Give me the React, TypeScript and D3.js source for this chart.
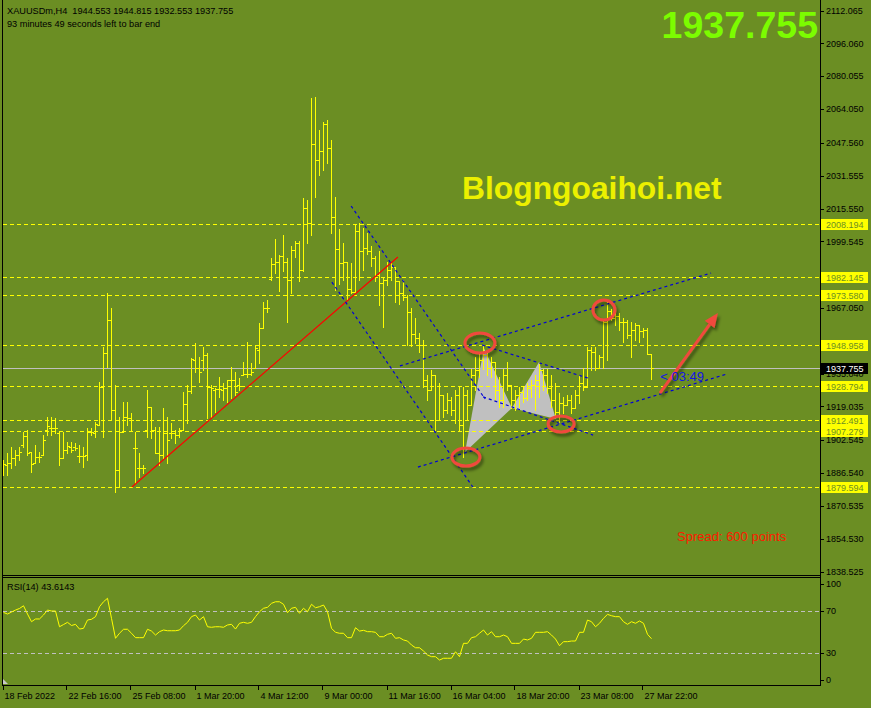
import React from "react";
import * as d3 from "d3";

const W = 871;
const H = 708;
const BG = "#6B8E23";
const FONT = "'Liberation Sans', Arial, sans-serif";

// ---- OHLC (XAUUSDm, H4) ----
const opens = [
  1891.5, 1890.5, 1891.5, 1893.9, 1895.4, 1900.3, 1904.6, 1896.8, 1891.5, 1894.4,
  1895.4, 1907.6, 1908.5, 1908.5, 1906.1, 1893.9, 1897.8, 1899.3, 1899.3, 1894.9,
  1894.9, 1895.4, 1906.6, 1906.1, 1910.0, 1928.5, 1945.1, 1961.2, 1917.3, 1888.1,
  1906.6, 1913.9, 1913.4, 1898.8, 1889.0, 1889.0, 1907.6, 1918.8, 1907.6, 1896.4,
  1895.4, 1906.1, 1906.1, 1906.1, 1905.1, 1907.6, 1920.2, 1926.6, 1941.7, 1937.8,
  1941.7, 1944.1, 1928.5, 1927.1, 1927.6, 1927.1, 1928.0, 1932.0, 1932.0, 1929.5,
  1934.4, 1934.9, 1934.9, 1937.8, 1946.6, 1957.3, 1967.1, 1981.2, 1988.5, 1989.5,
  1992.4, 1989.5, 1980.7, 1995.3, 1998.8, 1985.6, 2015.8, 2008.5, 2047.0, 2039.2,
  2043.6, 2056.8, 2045.1, 2011.4, 1995.8, 1989.0, 1989.5, 1976.3, 1974.9, 2004.6,
  1994.9, 1996.3, 1994.9, 1991.4, 1983.2, 1979.2, 1980.7, 1985.6, 1987.0, 1980.2,
  1974.4, 1972.4, 1965.1, 1954.4, 1952.4, 1949.0, 1932.0, 1927.1, 1934.4, 1912.5,
  1924.6, 1917.3, 1922.2, 1917.3, 1924.6, 1910.0, 1924.6, 1919.8, 1934.4, 1936.8,
  1941.7, 1944.1, 1937.8, 1940.7, 1927.1, 1922.2, 1934.4, 1929.5, 1922.2, 1924.6,
  1926.1, 1923.2, 1928.0, 1929.5, 1932.0, 1936.8, 1934.4, 1928.0, 1922.2, 1916.3,
  1920.7, 1919.8, 1922.2, 1918.3, 1924.6, 1930.5, 1928.5, 1946.6, 1945.6, 1937.8,
  1943.2, 1960.2, 1965.6, 1962.2, 1963.2, 1960.2, 1960.2, 1953.9, 1956.3, 1958.8,
  1955.8, 1956.3, 1944.553,
];
const highs = [
  1892.9, 1896.4, 1899.3, 1897.8, 1899.3, 1906.6, 1907.6, 1896.8, 1900.3, 1896.8,
  1905.1, 1913.9, 1913.9, 1913.4, 1906.6, 1906.6, 1901.7, 1901.7, 1901.2, 1900.3,
  1899.3, 1908.5, 1908.5, 1911.5, 1931.0, 1948.0, 1974.4, 1967.1, 1929.5, 1913.9,
  1921.2, 1921.2, 1915.9, 1906.6, 1896.4, 1890.5, 1927.1, 1918.8, 1909.0, 1909.0,
  1918.3, 1913.9, 1911.0, 1907.6, 1908.5, 1926.1, 1929.5, 1942.7, 1950.0, 1943.2,
  1948.0, 1945.1, 1929.5, 1928.0, 1933.4, 1930.5, 1932.0, 1938.3, 1935.9, 1932.9,
  1940.7, 1950.5, 1940.2, 1949.0, 1959.8, 1970.0, 1971.0, 1991.4, 2000.7, 1992.9,
  2002.7, 1991.4, 1997.3, 1999.7, 1999.7, 2020.7, 2019.7, 2069.5, 2069.9, 2053.9,
  2057.8, 2058.7, 2049.0, 2021.2, 2005.6, 1998.8, 1989.5, 1989.0, 2007.5, 2008.5,
  2006.1, 2003.6, 1997.3, 1992.4, 1994.9, 1982.2, 1989.5, 1989.0, 1987.0, 1980.2,
  1980.7, 1973.4, 1967.0, 1962.2, 1954.9, 1951.5, 1934.4, 1936.8, 1934.4, 1930.5,
  1924.6, 1925.6, 1923.7, 1927.1, 1928.5, 1928.5, 1927.1, 1937.3, 1943.2, 1945.1,
  1949.0, 1945.1, 1943.2, 1940.7, 1933.4, 1937.3, 1940.7, 1929.5, 1927.1, 1928.5,
  1928.5, 1930.5, 1932.0, 1934.4, 1940.7, 1937.3, 1937.3, 1934.4, 1930.5, 1925.6,
  1923.7, 1924.6, 1924.6, 1927.1, 1934.4, 1937.8, 1948.0, 1948.0, 1948.0, 1944.1,
  1961.2, 1971.0, 1966.6, 1964.6, 1964.6, 1962.2, 1961.2, 1960.2, 1959.8, 1958.8,
  1957.3, 1957.3, 1944.815,
];
const lows = [
  1885.6, 1885.6, 1889.0, 1890.5, 1892.9, 1899.3, 1895.4, 1887.1, 1891.5, 1892.0,
  1895.4, 1905.1, 1905.1, 1906.1, 1890.5, 1893.9, 1896.4, 1896.8, 1897.8, 1892.0,
  1889.5, 1892.9, 1905.1, 1904.2, 1910.0, 1904.2, 1938.3, 1912.5, 1877.3, 1879.8,
  1906.6, 1910.0, 1907.6, 1881.7, 1884.7, 1886.6, 1904.2, 1903.7, 1896.4, 1890.5,
  1893.9, 1891.5, 1903.7, 1901.2, 1904.2, 1907.6, 1911.0, 1925.6, 1935.9, 1931.0,
  1936.8, 1913.4, 1913.9, 1916.3, 1923.7, 1922.2, 1921.2, 1923.2, 1924.6, 1927.1,
  1934.4, 1933.4, 1934.4, 1937.8, 1940.2, 1957.3, 1965.1, 1980.7, 1984.1, 1975.3,
  1985.1, 1960.2, 1974.4, 1991.9, 1980.2, 1985.1, 1998.8, 2002.7, 2021.2, 2031.8,
  2034.4, 2037.8, 2003.6, 1975.8, 1978.8, 1980.7, 1971.0, 1974.4, 1974.9, 1980.7,
  1985.6, 1993.4, 1987.5, 1980.2, 1968.5, 1957.8, 1978.3, 1980.7, 1970.0, 1969.0,
  1971.0, 1949.0, 1948.5, 1950.0, 1945.6, 1928.5, 1922.2, 1927.1, 1907.6, 1912.5,
  1913.9, 1915.9, 1914.9, 1911.0, 1907.6, 1894.4, 1912.5, 1919.8, 1927.1, 1933.4,
  1937.3, 1934.4, 1933.4, 1922.2, 1918.8, 1918.8, 1927.1, 1918.3, 1917.3, 1918.8,
  1921.2, 1922.2, 1923.7, 1917.3, 1923.7, 1927.1, 1925.6, 1918.8, 1913.9, 1911.0,
  1915.9, 1919.8, 1915.9, 1918.3, 1920.7, 1927.1, 1928.5, 1936.8, 1936.8, 1937.8,
  1937.8, 1941.7, 1961.2, 1958.8, 1956.3, 1950.5, 1952.4, 1943.2, 1951.5, 1950.5,
  1952.9, 1944.6, 1932.553,
];
const closes = [
  1891.0, 1891.5, 1893.9, 1895.4, 1896.8, 1904.6, 1896.4, 1891.0, 1894.4, 1894.4,
  1902.7, 1909.5, 1908.5, 1908.5, 1893.9, 1897.8, 1899.8, 1897.8, 1898.8, 1894.9,
  1894.9, 1906.6, 1906.6, 1910.5, 1928.5, 1945.1, 1961.2, 1917.3, 1888.1, 1906.6,
  1913.9, 1913.4, 1912.5, 1898.8, 1889.0, 1889.0, 1918.8, 1907.6, 1896.4, 1895.4,
  1906.1, 1902.7, 1906.1, 1905.1, 1907.6, 1920.2, 1926.6, 1942.2, 1937.8, 1935.9,
  1944.1, 1928.5, 1928.0, 1927.6, 1927.6, 1928.0, 1932.0, 1932.0, 1926.1, 1929.0,
  1934.9, 1934.9, 1935.9, 1947.6, 1957.3, 1967.1, 1967.1, 1988.5, 1989.5, 1992.4,
  1989.5, 1980.7, 1995.3, 1998.8, 1985.6, 2015.8, 2008.5, 2047.0, 2039.2, 2043.6,
  2056.8, 2045.1, 2011.4, 1995.8, 1989.0, 1989.5, 1976.3, 1974.9, 2004.6, 1994.9,
  1996.3, 1994.9, 1991.4, 1983.2, 1979.2, 1980.7, 1985.6, 1987.0, 1980.2, 1974.4,
  1972.4, 1965.1, 1954.4, 1952.4, 1949.0, 1932.0, 1927.1, 1934.4, 1912.5, 1924.6,
  1917.3, 1922.2, 1917.3, 1924.6, 1910.0, 1924.6, 1919.8, 1934.4, 1936.8, 1941.7,
  1944.1, 1937.8, 1940.7, 1927.1, 1922.2, 1934.4, 1929.5, 1922.2, 1924.6, 1926.1,
  1923.2, 1928.0, 1929.5, 1932.0, 1936.8, 1934.4, 1928.0, 1922.2, 1916.3, 1920.7,
  1919.8, 1922.2, 1918.3, 1924.6, 1930.5, 1928.5, 1946.6, 1945.6, 1937.8, 1943.2,
  1960.2, 1965.6, 1962.2, 1963.2, 1960.2, 1960.2, 1953.9, 1956.3, 1958.8, 1955.8,
  1956.3, 1944.6, 1937.755,
];

// ---- RSI(14) ----
const rsi = [
  68.7, 67.1, 69.0, 70.9, 72.4, 75.0, 67.1, 59.8, 62.4, 62.4,
  66.2, 70.9, 70.0, 70.0, 55.0, 57.1, 59.2, 56.2, 57.3, 52.8,
  53.5, 61.4, 62.1, 64.6, 74.1, 78.8, 82.1, 63.0, 44.0, 48.8,
  52.6, 52.6, 48.8, 44.6, 44.6, 44.6, 52.6, 50.9, 47.1, 50.3,
  51.9, 51.2, 51.2, 51.2, 51.9, 56.0, 59.2, 64.6, 66.2, 61.4,
  64.6, 55.0, 54.5, 55.0, 55.0, 54.5, 56.7, 57.3, 52.8, 58.3,
  59.2, 58.3, 59.2, 64.6, 69.3, 72.6, 73.5, 77.3, 78.8, 78.8,
  76.4, 68.4, 72.6, 73.5, 67.8, 72.6, 69.3, 76.4, 73.1, 74.1,
  75.7, 69.3, 53.5, 49.7, 48.8, 48.8, 44.6, 44.6, 54.1, 50.9,
  51.6, 50.3, 50.3, 49.7, 45.5, 45.5, 47.8, 48.8, 44.0, 44.6,
  42.4, 41.4, 37.6, 35.0, 35.0, 31.9, 28.1, 26.5, 26.5, 23.3,
  25.0, 25.0, 25.0, 31.2, 26.5, 39.2, 39.2, 44.6, 45.5, 48.8,
  51.9, 47.1, 50.3, 45.5, 45.5, 47.1, 45.5, 39.2, 39.2, 39.2,
  43.3, 42.4, 44.0, 49.7, 49.7, 49.7, 50.3, 47.1, 43.3, 36.9,
  40.8, 40.8, 41.4, 41.4, 49.7, 49.7, 61.4, 59.8, 55.0, 58.3,
  63.0, 66.8, 65.5, 64.6, 64.6, 59.8, 57.3, 59.8, 58.3, 60.5,
  58.3, 47.8, 43.6,
];

const priceTicks = [
  2112.065, 2096.06, 2080.055, 2064.05, 2047.56, 2031.555, 2015.55, 1999.545,
  1967.05, 1935.04, 1919.035, 1902.545, 1886.54, 1870.535, 1854.53, 1838.525,
];
const levelLines = [2008.194, 1982.145, 1973.58, 1948.958, 1928.794, 1912.491, 1907.279, 1879.594];
const bidPrice = 1937.755;

const timeTickIndex = [0, 16, 32, 48, 64, 80, 96, 112, 128, 144, 160];
const timeTickLabels = [
  "18 Feb 2022", "22 Feb 16:00", "25 Feb 08:00", "1 Mar 20:00", "4 Mar 12:00", "9 Mar 00:00",
  "11 Mar 16:00", "16 Mar 04:00", "18 Mar 20:00", "23 Mar 08:00", "27 Mar 22:00",
];
const rsiLevels = [70, 30];
const rsiTickValues = [100, 70, 30, 0];

// ---- drawn objects, in (bar index, price) ----
const redTrend = [[32.1, 1879.8], [98.6, 1991.9]];
const blueLines = [
  [[86.9, 2016.8], [120.4, 1922.7]],
  [[82.1, 1979.7], [117.5, 1879.3]],
  [[99.1, 1938.8], [176.9, 1984.1]],
  [[103.6, 1889.5], [180.9, 1934.9]],
  [[119.6, 1949.0], [146.1, 1932.9]],
  [[119.9, 1923.7], [147.4, 1905.1]],
];
const triXAB = [[115.4, 1896.8], [120.1, 1947.6], [127.1, 1918.3]];
const triBCD = [[127.1, 1918.3], [133.9, 1940.7], [138.1, 1912.9]];
const marks = [[119.1, 1950.0], [150.1, 1966.1], [139.4, 1910.5], [115.6, 1894.4]];
const markRadii = [[15, 10], [11, 10], [13, 8], [14, 9]];
const arrowPts = [[164.1, 1925.6], [178.6, 1964.6]];
const timerPos = [164.2, 1931.5];

const header1 = "XAUUSDm,H4  1944.553 1944.815 1932.553 1937.755";
const header2 = "93 minutes 49 seconds left to bar end";

export default function App() {
  const x = d3.scaleLinear().domain([0, 162]).range([3.5, 651.5]);
  const y = d3.scaleLinear().domain([1838.525, 2112.065]).range([571.6, 10.6]);
  const yr = d3.scaleLinear().domain([0, 100]).range([684.5, 579.5]);

  const AX = 820; // right axis x
  const rsiPath = d3
    .line<number>()
    .x((_, i) => x(i))
    .y((v) => yr(v))(rsi) as string;

  const pt = (p: number[]) => [x(p[0]), y(p[1])];
  const poly = (ps: number[][]) => ps.map((p) => pt(p).join(",")).join(" ");

  const [a0, a1] = [pt(arrowPts[0]), pt(arrowPts[1])];
  const ang = Math.atan2(a1[1] - a0[1], a1[0] - a0[0]);
  const hl = 14, hw = 6;
  const bx = a1[0] - hl * Math.cos(ang), by = a1[1] - hl * Math.sin(ang);
  const head = [
    [a1[0], a1[1]],
    [bx + hw * Math.sin(ang), by - hw * Math.cos(ang)],
    [bx - hw * Math.sin(ang), by + hw * Math.cos(ang)],
  ];

  const red = "#f0493c";
  const pre = { whiteSpace: "pre" as const };

  return (
    <svg
      width={W}
      height={H}
      style={{ position: "absolute", left: 0, top: 0, display: "block" }}
      fontFamily={FONT}
    >
      <defs>
        <clipPath id="mainClip">
          <rect x={3} y={0} width={AX - 3} height={575} />
        </clipPath>
        <clipPath id="rsiClip">
          <rect x={3} y={578} width={AX - 3} height={107} />
        </clipPath>
        <filter id="shadow" x="-50%" y="-50%" width="200%" height="200%">
          <feDropShadow dx="2" dy="3" stdDeviation="1.6" floodColor="#000" floodOpacity="0.45" />
        </filter>
      </defs>
      <rect x={0} y={0} width={W} height={H} fill={BG} />

      {/* main panel */}
      <g clipPath="url(#mainClip)">
        <polygon points={poly(triXAB)} fill="#c0c0c0" />
        <polygon points={poly(triBCD)} fill="#c0c0c0" />
        {levelLines.map((l) => (
          <line key={l} x1={3} x2={AX} y1={Math.round(y(l)) + 0.5} y2={Math.round(y(l)) + 0.5}
            stroke="#ffff00" strokeDasharray="4,3" />
        ))}
        <line x1={3} x2={AX} y1={Math.round(y(bidPrice)) + 0.5} y2={Math.round(y(bidPrice)) + 0.5} stroke="#c0c0c0" />
        {opens.map((o, i) => {
          const px = Math.round(x(i) - 0.5);
          const yh = Math.round(y(highs[i]));
          const yl = Math.round(y(lows[i]));
          return (
            <g key={i} fill="#ffff00">
              <rect x={px} y={yh} width={1} height={Math.max(1, yl - yh + 1)} />
              <rect x={px - 2} y={Math.round(y(o))} width={2} height={1} />
              <rect x={px + 1} y={Math.round(y(closes[i]))} width={2} height={1} />
            </g>
          );
        })}
        <line x1={x(redTrend[0][0])} y1={y(redTrend[0][1])} x2={x(redTrend[1][0])} y2={y(redTrend[1][1])}
          stroke="#ff0000" strokeWidth={1.2} />
        {blueLines.map((l, i) => (
          <line key={i} x1={x(l[0][0])} y1={y(l[0][1])} x2={x(l[1][0])} y2={y(l[1][1])}
            stroke="#0000d8" strokeWidth={1.2} strokeDasharray="3,3" />
        ))}
        <g filter="url(#shadow)">
          {marks.map((m, i) => (
            <ellipse key={i} cx={x(m[0])} cy={y(m[1])} rx={markRadii[i][0]} ry={markRadii[i][1]}
              fill="none" stroke={red} strokeWidth={3} />
          ))}
          <line x1={a0[0]} y1={a0[1]} x2={bx} y2={by} stroke={red} strokeWidth={3} />
          <polygon points={head.map((p) => p.join(",")).join(" ")} fill={red} />
        </g>
        <text x={x(timerPos[0])} y={y(timerPos[1])} fill="#1414e6" fontSize={13} style={pre}>{"< 03:49"}</text>
        <text x={462} y={199} fill="#ecf000" fontSize={31.8} fontWeight="bold">Blogngoaihoi.net</text>
        <text x={818} y={38} fill="#7cfc00" fontSize={37.5} fontWeight="bold" textAnchor="end">1937.755</text>
        <text x={677} y={541} fill="#ff1a00" fontSize={13} style={pre}>Spread: 600 points</text>
      </g>

      {/* header texts */}
      <text x={7} y={14} fontSize={9.2} fill="#000" style={pre}>{header1}</text>
      <text x={7} y={27} fontSize={9.2} fill="#000" style={pre}>{header2}</text>

      {/* price axis */}
      {priceTicks.map((t) => (
        <g key={t}>
          <line x1={AX} x2={AX + 4} y1={Math.round(y(t)) + 0.5} y2={Math.round(y(t)) + 0.5} stroke="#000" />
          <text x={826} y={y(t)} dy="0.35em" fontSize={9} fill="#000">{t.toFixed(3)}</text>
        </g>
      ))}
      {levelLines.map((l) => (
        <g key={l}>
          <rect x={821} y={Math.round(y(l)) - 5} width={47} height={11} fill="#ffff00" />
          <text x={826} y={Math.round(y(l)) + 0.5} dy="0.35em" fontSize={9} fill={BG}>{l.toFixed(3)}</text>
        </g>
      ))}
      <rect x={821} y={Math.round(y(bidPrice)) - 5} width={47} height={11} fill="#000" />
      <text x={826} y={Math.round(y(bidPrice)) + 0.5} dy="0.35em" fontSize={9} fill="#fff">{bidPrice.toFixed(3)}</text>

      {/* RSI panel */}
      <g clipPath="url(#rsiClip)">
        {rsiLevels.map((l) => (
          <line key={l} x1={3} x2={AX} y1={Math.round(yr(l)) + 0.5} y2={Math.round(yr(l)) + 0.5}
            stroke="#c0c0c0" strokeDasharray="4,3" />
        ))}
        <path d={rsiPath} fill="none" stroke="#ffff00" strokeWidth={1} />
      </g>
      <text x={7} y={590} fontSize={9.2} fill="#000">RSI(14) 43.6143</text>
      {rsiTickValues.map((v) => {
        const cy = Math.min(Math.max(yr(v), 584), 680);
        return (
          <g key={v}>
            <line x1={AX} x2={AX + 4} y1={Math.round(cy) + 0.5} y2={Math.round(cy) + 0.5} stroke="#000" />
            <text x={826} y={cy} dy="0.35em" fontSize={9} fill="#000">{v}</text>
          </g>
        );
      })}
      <polygon points="3,684 3,679 8,684" fill="#c8c8c8" />

      {/* frames */}
      <line x1={2.5} x2={2.5} y1={0} y2={685} stroke="#000" />
      <line x1={2} x2={AX + 0.5} y1={575.5} y2={575.5} stroke="#000" />
      <line x1={2} x2={AX + 0.5} y1={577.5} y2={577.5} stroke="#000" />
      <line x1={2} x2={AX + 0.5} y1={685.5} y2={685.5} stroke="#000" />
      <line x1={AX + 0.5} x2={AX + 0.5} y1={0} y2={686} stroke="#000" />

      {/* time axis */}
      {timeTickIndex.map((ti, k) => (
        <g key={ti}>
          <line x1={Math.round(x(ti)) - 0.5} x2={Math.round(x(ti)) - 0.5} y1={685} y2={690} stroke="#000" />
          <text x={x(ti) + 1} y={699} fontSize={9} fill="#000">{timeTickLabels[k]}</text>
        </g>
      ))}
    </svg>
  );
}
